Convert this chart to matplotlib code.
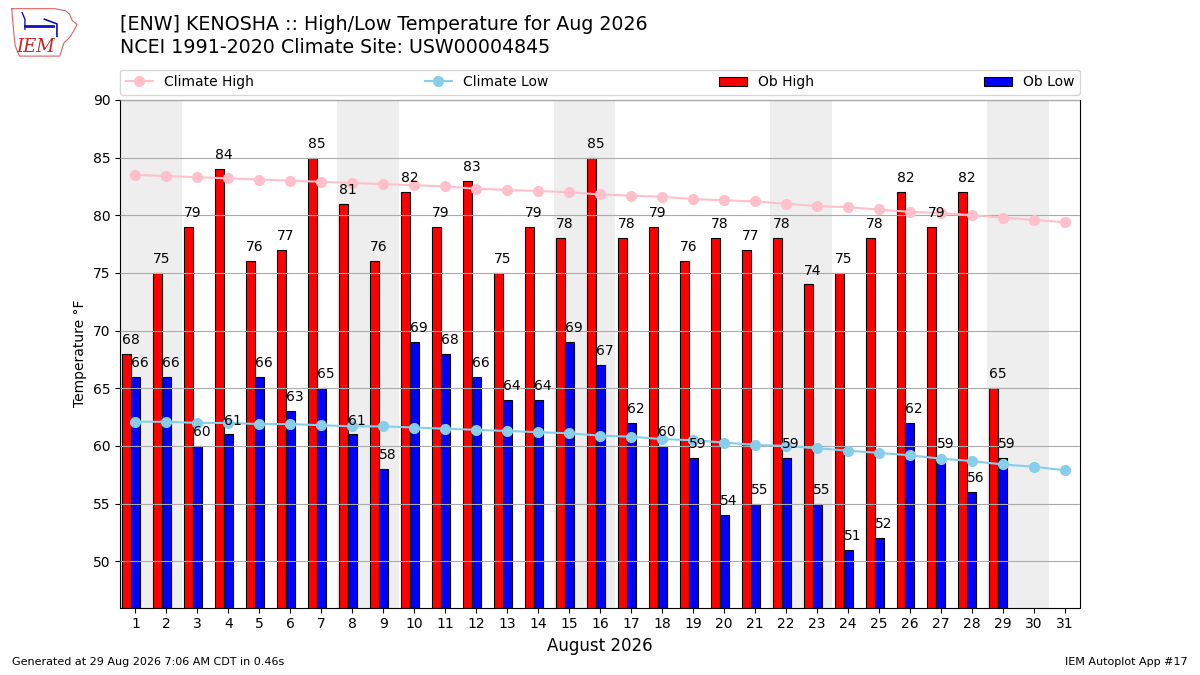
import matplotlib
matplotlib.use("Agg")
import matplotlib.pyplot as plt
import numpy as np

days = list(range(1, 32))
ob_days = list(range(1, 30))
ob_high = [68, 75, 79, 84, 76, 77, 85, 81, 76, 82, 79, 83, 75, 79, 78, 85, 78, 79,
           76, 78, 77, 78, 74, 75, 78, 82, 79, 82, 65]
ob_low = [66, 66, 60, 61, 66, 63, 65, 61, 58, 69, 68, 66, 64, 64, 69, 67, 62, 60,
          59, 54, 55, 59, 55, 51, 52, 62, 59, 56, 59]
clim_high = [83.5, 83.4, 83.3, 83.2, 83.1, 83.0, 82.9, 82.8, 82.7, 82.6, 82.5, 82.3,
             82.2, 82.1, 82.0, 81.8, 81.7, 81.6, 81.4, 81.3, 81.2, 81.0, 80.8, 80.7,
             80.5, 80.3, 80.2, 80.0, 79.8, 79.6, 79.4]
clim_low = [62.1, 62.1, 62.0, 62.0, 61.9, 61.9, 61.8, 61.7, 61.7, 61.6, 61.5, 61.4,
            61.3, 61.2, 61.1, 60.9, 60.8, 60.6, 60.5, 60.3, 60.1, 60.0, 59.8, 59.6,
            59.4, 59.2, 58.9, 58.7, 58.4, 58.2, 57.9]
weekend_starts = [1, 8, 15, 22, 29]

fig = plt.figure(figsize=(12, 6.75), dpi=100)
ax = fig.add_axes([0.1, 0.1, 0.8, 0.752])

for s in weekend_starts:
    ax.axvspan(s - 0.5, s + 1.5, color="#EEEEEE", zorder=0, lw=0)

x = np.array(ob_days)
w = 0.29
bh = ax.bar(x - 0.28, ob_high, width=w, color="r", edgecolor="k", lw=0.8,
            label="Ob High", zorder=2)
bl = ax.bar(x + 0.01, ob_low, width=w, color="b", edgecolor="k", lw=0.8,
            label="Ob Low", zorder=2)
for xi, v in zip(x, ob_high):
    ax.text(xi - 0.28 - w / 2, v + 0.6, f"{v}", ha="left", va="bottom", fontsize=10, zorder=5)
for xi, v in zip(x, ob_low):
    ax.text(xi + 0.01 - w / 2, v + 0.6, f"{v}", ha="left", va="bottom", fontsize=10, zorder=5)

lh, = ax.plot(days, clim_high, color="pink", marker="o", markersize=7, lw=1.5,
              label="Climate High", zorder=4)
ll, = ax.plot(days, clim_low, color="skyblue", marker="o", markersize=7, lw=1.5,
              label="Climate Low", zorder=4)

ax.set_xlim(0.5, 31.5)
ax.set_ylim(46, 90)
ax.set_xticks(days)
ax.set_yticks(range(50, 91, 5))
ax.yaxis.grid(True, color="#AAAAAA", lw=0.8, zorder=1)
ax.set_axisbelow(False)
for gl in ax.get_ygridlines():
    gl.set_zorder(1)
ax.set_ylabel("Temperature °F")
ax.set_xlabel("August 2026", fontsize=12)

ax.legend(handles=[lh, ll, bh, bl], ncol=4, mode="expand", loc="lower left",
          bbox_to_anchor=(0, 1.01, 1, 0.05), fontsize=10, borderaxespad=0)

fig.text(0.1, 0.964, "[ENW] KENOSHA :: High/Low Temperature for Aug 2026",
         fontsize=13.7, va="center", ha="left")
fig.text(0.1, 0.930, "NCEI 1991-2020 Climate Site: USW00004845",
         fontsize=13.7, va="center", ha="left")

fig.text(0.01, 0.015, "Generated at 29 Aug 2026 7:06 AM CDT in 0.46s", fontsize=8)
fig.text(0.99, 0.015, "IEM Autoplot App #17", fontsize=8, ha="right")

# simple IEM logo
lax = fig.add_axes([0.008, 0.913, 0.058, 0.078])
lax.set_xlim(0, 10)
lax.set_ylim(0, 8)
lax.axis("off")
ox = [0.3, 6.5, 8.0, 8.6, 9.0, 9.7, 9.2, 8.6, 7.8, 7.2, 1.4, 0.8, 0.6, 0.3]
oy = [7.6, 7.6, 7.3, 6.8, 5.8, 5.2, 4.2, 3.2, 2.4, 0.4, 0.4, 2.0, 4.0, 7.6]
lax.plot(ox, oy, color="#E06060", lw=0.8)
lax.plot([2.2, 6.2], [5.0, 5.0], color="#1010C0", lw=2)
lax.plot([1.8, 2.2, 2.2], [7.0, 6.0, 4.5], color="#1010C0", lw=1)
lax.plot([5.0, 6.8, 6.8], [6.0, 5.3, 3.4], color="#1010C0", lw=1.2)
lax.text(1.0, 1.0, "IEM", color="#D02020", fontsize=13, family="DejaVu Serif",
         style="italic")

fig.savefig("out.png", dpi=100)
